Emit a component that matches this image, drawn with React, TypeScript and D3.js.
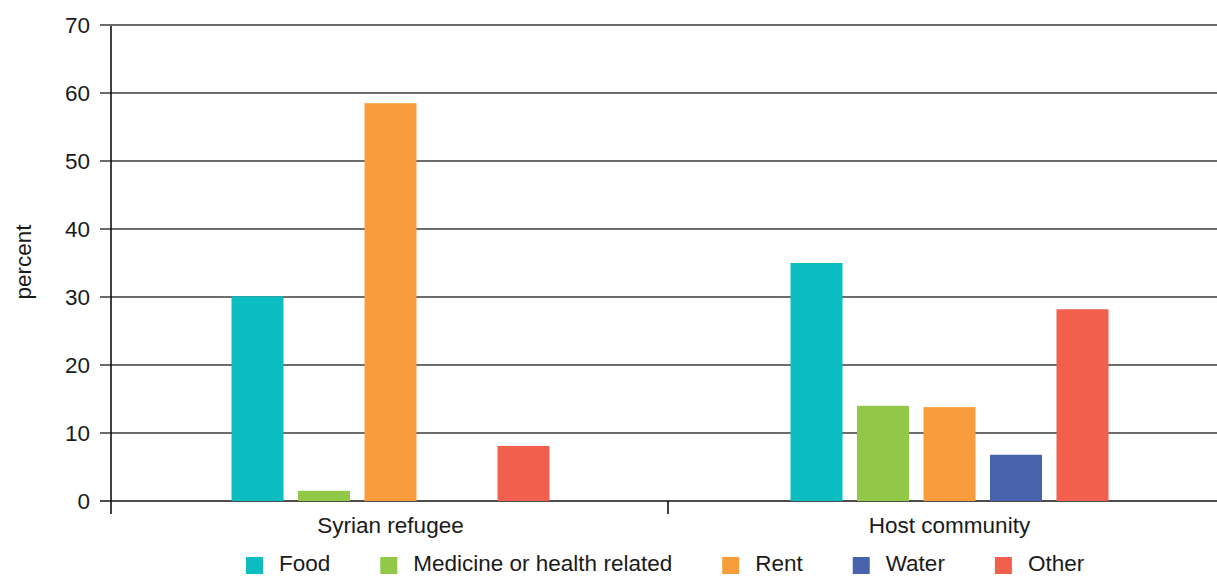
import React from "react";
import * as d3 from "d3";

const categories = ["Syrian refugee", "Host community"];
const seriesNames = ["Food", "Medicine or health related", "Rent", "Water", "Other"];
const seriesColors = ["#0bbcc1", "#92c848", "#f89c3c", "#4763ab", "#f0604c"];
const foodValues = [30.1, 35.0];
const medicineValues = [1.5, 14.0];
const rentValues = [58.5, 13.8];
const waterValues = [0, 6.8];
const otherValues = [8.1, 28.2];
const yTicks = [0, 10, 20, 30, 40, 50, 60, 70];
const yLabel = "percent";

const W = 1217;
const H = 576;
const FONT = "'Liberation Sans', Arial, Helvetica, sans-serif";
const FS = 22.5;

function measure(text: string): number {
  if (typeof document === "undefined") return text.length * FS * 0.5;
  const c = document.createElement("canvas");
  const ctx = c.getContext("2d");
  if (!ctx) return text.length * FS * 0.5;
  ctx.font = `${FS}px ${FONT}`;
  return ctx.measureText(text).width;
}

export default function App() {
  const seriesValues = [foodValues, medicineValues, rentValues, waterValues, otherValues];
  const left = 111;
  const gridLeft = 100;
  const top = 25;
  const bottom = 501;

  const x0 = d3.scaleBand<string>().domain(categories).range([left, 1229]);
  const x1 = d3
    .scaleBand<string>()
    .domain(seriesNames)
    .range([-159, 159])
    .paddingInner(0.218)
    .paddingOuter(0);
  const y = d3.scaleLinear().domain([0, 70]).range([bottom, top]);

  const legendItems: { name: string; color: string; sx: number; tx: number }[] = [];
  let cx = 246;
  seriesNames.forEach((name, i) => {
    const w = measure(name);
    legendItems.push({ name, color: seriesColors[i], sx: cx, tx: cx + 33 });
    cx = cx + 33 + w + 50;
  });

  return (
    <svg
      width={W}
      height={H}
      style={{ position: "absolute", left: 0, top: 0, background: "#fff" }}
      fontFamily={FONT}
    >
      {yTicks.map((t) => (
        <line
          key={"g" + t}
          x1={gridLeft}
          x2={W}
          y1={y(t)}
          y2={y(t)}
          stroke={t === 0 ? "#111" : "#3d3d3d"}
          strokeWidth={1.6}
        />
      ))}
      {yTicks.map((t) => (
        <text
          key={"t" + t}
          x={90}
          y={y(t)}
          dy="0.36em"
          textAnchor="end"
          fontSize={FS}
          fill="#1a1a1a"
        >
          {t}
        </text>
      ))}
      <text
        transform={`translate(31,${262}) rotate(-90)`}
        textAnchor="middle"
        fontSize={FS}
        fill="#1a1a1a"
      >
        {yLabel}
      </text>
      {categories.map((cat, ci) => (
        <g key={cat} transform={`translate(${(x0(cat) ?? 0) + x0.bandwidth() / 2},0)`}>
          {seriesNames.map((s, si) => {
            const v = seriesValues[si][ci];
            if (!v) return null;
            return (
              <rect
                key={s}
                x={x1(s) ?? 0}
                width={x1.bandwidth()}
                y={y(v)}
                height={y(0) - y(v)}
                fill={seriesColors[si]}
              />
            );
          })}
        </g>
      ))}
      <line x1={left} x2={left} y1={top + 1} y2={514} stroke="#111" strokeWidth={1.6} />
      {categories.slice(1).map((cat) => (
        <line
          key={"xt" + cat}
          x1={(x0(cat) ?? 0) - 2}
          x2={(x0(cat) ?? 0) - 2}
          y1={bottom}
          y2={514}
          stroke="#111"
          strokeWidth={1.6}
        />
      ))}
      {categories.map((cat) => (
        <text
          key={"c" + cat}
          x={(x0(cat) ?? 0) + x0.bandwidth() / 2}
          y={533}
          textAnchor="middle"
          fontSize={FS}
          fill="#1a1a1a"
        >
          {cat}
        </text>
      ))}
      {legendItems.map((it) => (
        <g key={"l" + it.name}>
          <rect x={it.sx} y={557} width={17} height={17} fill={it.color} />
          <text x={it.tx} y={571} fontSize={FS} fill="#1a1a1a">
            {it.name}
          </text>
        </g>
      ))}
    </svg>
  );
}
